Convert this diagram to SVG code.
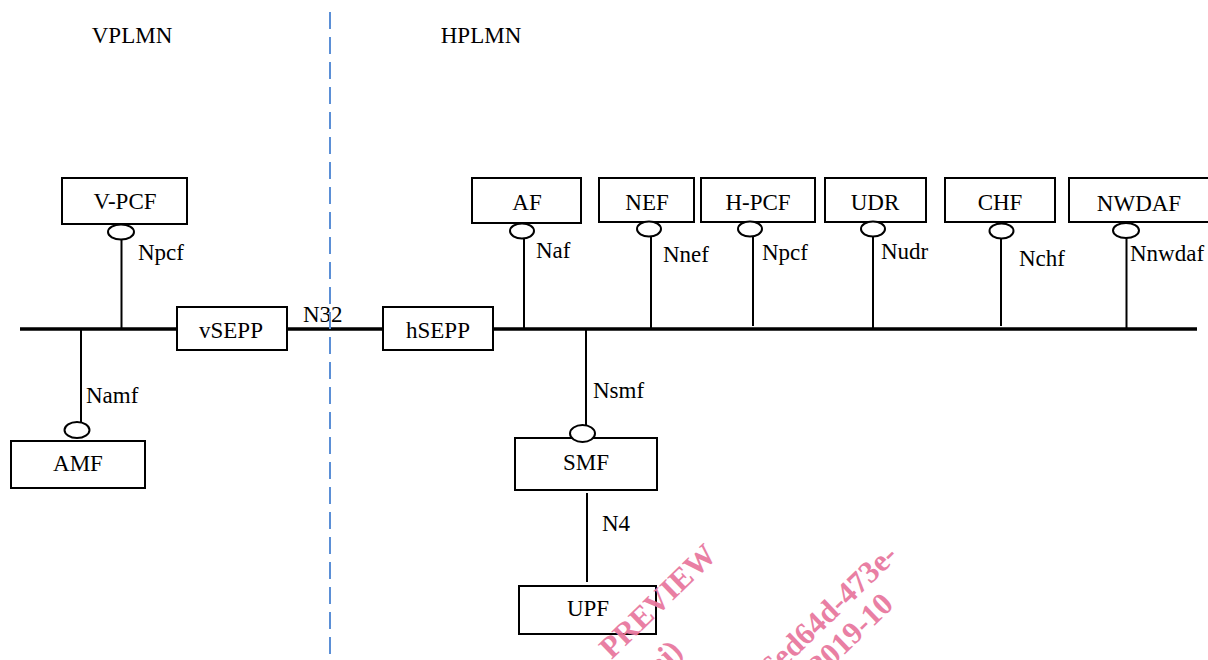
<svg xmlns="http://www.w3.org/2000/svg" width="1208" height="660" viewBox="0 0 1208 660" font-family="Liberation Serif, DejaVu Serif, serif">
<style>
  text { font-family: "Liberation Serif", "DejaVu Serif", serif; font-size: 23px; fill: #000; }
  .box { fill: #fff; stroke: #000; stroke-width: 2; }
  .port { fill: #fff; stroke: #000; stroke-width: 2; }
  .stem { stroke: #000; stroke-width: 2; fill: none; }
  .bus { stroke: #000; stroke-width: 3.5; fill: none; }
  .border { stroke: #5B8FD6; stroke-width: 2; stroke-dasharray: 17 8; fill: none; }
  .lbl { text-anchor: middle; }
  .wm { font-weight: bold; font-size: 31px; fill: #E8799F; text-anchor: end; }
</style>
<rect width="1208" height="660" fill="#fff"/>

<g id="connectors">
  <line class="bus" x1="20" y1="329" x2="1197" y2="329"/>
  <line class="stem" x1="121.5" y1="239" x2="121.5" y2="329"/>
  <line class="stem" x1="81" y1="329" x2="81" y2="423"/>
  <line class="stem" x1="524" y1="238" x2="524" y2="329"/>
  <line class="stem" x1="651" y1="236" x2="651" y2="329"/>
  <line class="stem" x1="753" y1="236" x2="753" y2="326"/>
  <line class="stem" x1="873" y1="236" x2="873" y2="329"/>
  <line class="stem" x1="1001" y1="238" x2="1001" y2="326"/>
  <line class="stem" x1="1126.5" y1="237" x2="1126.5" y2="329"/>
  <line class="stem" x1="586" y1="329" x2="586" y2="426"/>
  <line class="stem" x1="587" y1="493" x2="587" y2="582"/>
  <text x="138" y="260">Npcf</text>
  <text x="86" y="403">Namf</text>
  <text x="303" y="322">N32</text>
  <text x="536" y="258">Naf</text>
  <text x="663" y="262">Nnef</text>
  <text x="762" y="260">Npcf</text>
  <text x="881" y="259">Nudr</text>
  <text x="1019" y="266">Nchf</text>
  <text x="1130" y="261">Nnwdaf</text>
  <text x="593" y="398">Nsmf</text>
  <text x="602" y="531">N4</text>
</g>

<g id="vpcf">
  <rect class="box" x="62" y="178" width="125" height="46"/>
  <text class="lbl" x="125" y="209">V-PCF</text>
  <ellipse class="port" cx="121" cy="232" rx="13" ry="7.5"/>
</g>
<g id="vsepp">
  <rect class="box" x="177" y="307" width="110" height="43"/>
  <text class="lbl" x="231" y="338">vSEPP</text>
</g>
<g id="hsepp">
  <rect class="box" x="383" y="307" width="110" height="43"/>
  <text class="lbl" x="438" y="338">hSEPP</text>
</g>
<g id="amf">
  <rect class="box" x="11" y="441" width="134" height="47"/>
  <text class="lbl" x="78" y="471">AMF</text>
  <ellipse class="port" cx="77" cy="430" rx="12.5" ry="8"/>
</g>
<g id="af">
  <rect class="box" x="472" y="178" width="109" height="45"/>
  <text class="lbl" x="527" y="210">AF</text>
  <ellipse class="port" cx="522" cy="231" rx="12" ry="7.5"/>
</g>
<g id="nef">
  <rect class="box" x="599" y="178" width="95" height="44"/>
  <text class="lbl" x="647" y="210">NEF</text>
  <ellipse class="port" cx="649" cy="229" rx="12" ry="7.5"/>
</g>
<g id="hpcf">
  <rect class="box" x="701" y="178" width="114" height="44"/>
  <text class="lbl" x="758" y="210">H-PCF</text>
  <ellipse class="port" cx="750" cy="229" rx="12" ry="7.5"/>
</g>
<g id="udr">
  <rect class="box" x="825" y="178" width="101" height="44"/>
  <text class="lbl" x="875" y="210">UDR</text>
  <ellipse class="port" cx="873" cy="229" rx="12" ry="7.5"/>
</g>
<g id="chf">
  <rect class="box" x="945" y="178" width="110" height="44"/>
  <text class="lbl" x="1000" y="210">CHF</text>
  <ellipse class="port" cx="1001.5" cy="231" rx="12" ry="7.5"/>
</g>
<g id="nwdaf">
  <rect class="box" x="1069" y="178" width="145" height="44"/>
  <text class="lbl" x="1139" y="211">NWDAF</text>
  <ellipse class="port" cx="1126" cy="230.5" rx="13" ry="7.5"/>
</g>
<g id="smf">
  <rect class="box" x="515" y="438" width="142" height="52"/>
  <text class="lbl" x="586" y="470">SMF</text>
  <ellipse class="port" cx="582.5" cy="433.5" rx="12.5" ry="8.5"/>
</g>
<g id="upf">
  <rect class="box" x="519" y="586" width="137" height="48"/>
  <text class="lbl" x="588" y="616">UPF</text>
</g>

<g id="regions">
  <line class="border" x1="330" y1="12" x2="330" y2="660"/>
  <text class="lbl" x="132" y="43">VPLMN</text>
  <text class="lbl" x="481" y="43">HPLMN</text>
</g>

<g id="watermark" opacity="0.95">
  <text class="wm" transform="translate(718,557) rotate(-44)">PREVIEW</text>
  <text class="wm" transform="translate(684,653) rotate(-44)">ai)</text>
  <text class="wm" transform="translate(899,557) rotate(-44)">a6ed64d-473e-</text>
  <text class="wm" transform="translate(895,606) rotate(-44)">2019-10</text>
</g>
</svg>
